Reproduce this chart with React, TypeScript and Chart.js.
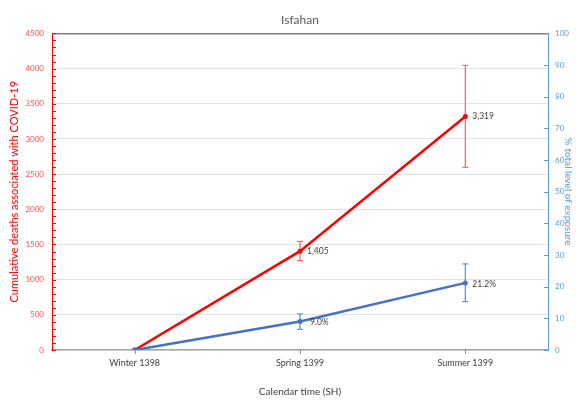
import { useEffect, useRef } from 'react';
import { Chart, registerables } from 'chart.js';

Chart.register(...registerables);

const categories = ['Winter 1398', 'Spring 1399', 'Summer 1399'];
const deaths = [0, 1405, 3319];
const deathsErrLow = [0, 1270, 2595];
const deathsErrHigh = [0, 1545, 4045];
const exposure = [0, 9.0, 21.2];
const exposureErrLow = [0, 6.5, 15.3];
const exposureErrHigh = [0, 11.4, 27.2];
const deathLabels = ['', '1,405', '3,319'];
const exposureLabels = ['', '9.0%', '21.2%'];
const leftMinorStep = 100;

const RED = '#FF0000';
const BLUE = '#4472C4';
const LIGHTBLUE = '#5B9BD5';
const FONT = 'Lato, "Open Sans", sans-serif';

const overlay = {
  id: 'overlay',
  beforeDatasetsDraw(chart: any) {
    const ctx = chart.ctx;
    const x = chart.scales.x;
    const yL = chart.scales.y;
    const yR = chart.scales.y1;
    const area = chart.chartArea;
    ctx.save();
    ctx.lineWidth = 1;
    // left minor/major ticks (inside)
    ctx.strokeStyle = RED;
    for (let v = yL.min; v <= yL.max; v += leftMinorStep) {
      const py = Math.round(yL.getPixelForValue(v)) + 0.5;
      ctx.beginPath();
      ctx.moveTo(area.left, py);
      ctx.lineTo(area.left + 4, py);
      ctx.stroke();
    }
    // right ticks (inside)
    ctx.strokeStyle = LIGHTBLUE;
    yR.ticks.forEach((t: any) => {
      const py = Math.round(yR.getPixelForValue(t.value)) + 0.5;
      ctx.beginPath();
      ctx.moveTo(area.right - 4, py);
      ctx.lineTo(area.right, py);
      ctx.stroke();
    });
    // x ticks
    ctx.strokeStyle = '#8C8C8C';
    categories.forEach((_, i) => {
      const px = Math.round(x.getPixelForValue(i)) + 0.5;
      ctx.beginPath();
      ctx.moveTo(px, area.bottom);
      ctx.lineTo(px, area.bottom + 4);
      ctx.stroke();
    });
    // error bars
    const drawErr = (lows: number[], highs: number[], scale: any, color: string) => {
      ctx.strokeStyle = color;
      ctx.lineWidth = 1.3;
      lows.forEach((lo, i) => {
        const hi = highs[i];
        if (hi === lo) return;
        const px = x.getPixelForValue(i);
        const y1 = scale.getPixelForValue(lo);
        const y2 = scale.getPixelForValue(hi);
        ctx.beginPath();
        ctx.moveTo(px, y1);
        ctx.lineTo(px, y2);
        ctx.moveTo(px - 3, y1);
        ctx.lineTo(px + 3, y1);
        ctx.moveTo(px - 3, y2);
        ctx.lineTo(px + 3, y2);
        ctx.stroke();
      });
    };
    drawErr(deathsErrLow, deathsErrHigh, yL, '#FF6B6B');
    drawErr(exposureErrLow, exposureErrHigh, yR, LIGHTBLUE);
    ctx.restore();
  },
  afterDatasetsDraw(chart: any) {
    const ctx = chart.ctx;
    const x = chart.scales.x;
    const yL = chart.scales.y;
    const yR = chart.scales.y1;
    ctx.save();
    ctx.font = '8.5px ' + FONT;
    ctx.fillStyle = '#404040';
    ctx.textAlign = 'left';
    ctx.textBaseline = 'middle';
    deathLabels.forEach((l, i) => {
      if (!l) return;
      ctx.fillText(l, x.getPixelForValue(i) + 7, yL.getPixelForValue(deaths[i]));
    });
    exposureLabels.forEach((l, i) => {
      if (!l) return;
      ctx.fillText(l, x.getPixelForValue(i) + (i === 1 ? 10 : 7), yR.getPixelForValue(exposure[i]) + 1);
    });
    ctx.restore();
  },
};

export default function App() {
  const ref = useRef<HTMLCanvasElement>(null);
  useEffect(() => {
    if (!ref.current) return;
    const chart = new Chart(ref.current, {
      type: 'line',
      data: {
        labels: categories,
        datasets: [
          {
            label: 'Cumulative deaths',
            data: deaths,
            yAxisID: 'y',
            borderColor: RED,
            backgroundColor: RED,
            borderWidth: 2.5,
            pointRadius: 2.5,
            pointBackgroundColor: RED,
            pointBorderWidth: 0,
            tension: 0,
            order: 1,
          },
          {
            label: 'Exposure',
            data: exposure,
            yAxisID: 'y1',
            borderColor: BLUE,
            backgroundColor: BLUE,
            borderWidth: 2.5,
            pointRadius: 2.5,
            pointBackgroundColor: BLUE,
            pointBorderWidth: 0,
            tension: 0,
            order: 0,
          },
        ],
      },
      options: {
        responsive: false,
        animation: false,
        layout: { padding: 0 },
        plugins: {
          legend: { display: false },
          tooltip: { enabled: false },
          title: {
            display: true,
            text: 'Isfahan',
            color: '#595959',
            font: { family: FONT, size: 12, weight: 'normal' },
            padding: { top: 13, bottom: 6 },
            fullSize: false,
          },
        },
        scales: {
          x: {
            type: 'category',
            offset: true,
            grid: { display: false, drawTicks: false },
            border: { display: true, color: '#A6A6A6', width: 1.5 },
            ticks: {
              color: '#404040',
              font: { family: FONT, size: 9 },
              padding: 8,
              maxRotation: 0,
            },
            title: {
              display: true,
              text: 'Calendar time (SH)',
              color: '#404040',
              font: { family: FONT, size: 10 },
              padding: { top: 0, bottom: 7 },
            },
            afterFit: (s: any) => { s.height = 55; },
          },
          y: {
            position: 'left',
            min: 0,
            max: 4500,
            ticks: {
              stepSize: 500,
              color: '#FF5050',
              font: { family: FONT, size: 8 },
              padding: 8,
              callback: (v: any) => String(v),
            },
            grid: {
              drawTicks: false,
              color: (c: any) => (c.tick && c.tick.value === 4500 ? '#808080' : '#E3E3E3'),
              lineWidth: (c: any) => (c.tick && c.tick.value === 4500 ? 1.5 : 1),
            },
            border: { display: true, color: RED, width: 1 },
            title: {
              display: true,
              text: 'Cumulative deaths associated with COVID-19',
              color: RED,
              font: { family: FONT, size: 11 },
              padding: { top: 8, bottom: 0 },
            },
            afterFit: (s: any) => { s.width = 52; },
          },
          y1: {
            position: 'right',
            min: 0,
            max: 100,
            ticks: {
              stepSize: 10,
              color: LIGHTBLUE,
              font: { family: FONT, size: 8 },
              padding: 7,
            },
            grid: { drawOnChartArea: false, drawTicks: false },
            border: { display: true, color: LIGHTBLUE, width: 1 },
            title: {
              display: true,
              text: '% total level of exposure',
              color: LIGHTBLUE,
              font: { family: FONT, size: 10 },
              padding: { top: 3, bottom: 0 },
            },
            afterFit: (s: any) => { s.width = 29; },
          },
        },
      },
      plugins: [overlay],
    } as any);
    return () => chart.destroy();
  }, []);
  return (
    <div style={{ position: 'absolute', left: 0, top: 0, width: 577, height: 405, background: '#fff' }}>
      <canvas ref={ref} width={577} height={405} style={{ display: 'block' }} />
    </div>
  );
}
